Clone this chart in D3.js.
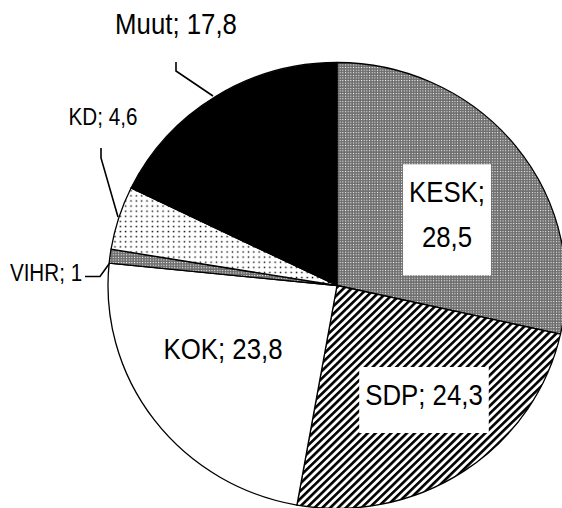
<!DOCTYPE html>
<html>
<head>
<meta charset="utf-8">
<script src="https://cdn.jsdelivr.net/npm/d3@7"></script>
<style>
  html, body { margin: 0; padding: 0; background: #fff; }
  svg { display: block; }
  text { font-family: "Liberation Sans", Arial, sans-serif; fill: #000; }
</style>
</head>
<body>
<svg id="chart" width="562" height="508"></svg>
<script>
// ---- data ----
const parties = ["KESK", "SDP", "KOK", "VIHR", "KD", "Muut"];
const shares = [28.5, 24.3, 23.8, 1, 4.6, 17.8];
const fills = ["url(#checker)", "url(#hatch)", "#fff", "url(#checker)", "url(#dots)", "#000"];

// ---- layout (annotation placement) ----
const W = 562, H = 508;
const cx = 337, cy = 285.5, rx = 229, ry = 223;
const labelLayout = {
  KESK: { x: 447, y: 202.3, size: 30, box: true, split: true },
  SDP:  { x: 424, y: 405,   size: 30, box: true },
  KOK:  { x: 223, y: 359.3, size: 30 },
  VIHR: { x: 46,  y: 281,   size: 24 },
  KD:   { x: 103, y: 125,   size: 24 },
  Muut: { x: 176, y: 34.3,  size: 30 }
};
const leaders = {
  Muut: [[176, 62], [176, 71], [213, 96]],
  KD:   [[101, 148], [101, 158], [118, 217]],
  VIHR: [[85, 276.5], [100, 276.5], [109, 264]]
};
const xScaleText = 0.86;
const lineGap = 45;

const fmt = v => String(v).replace(".", ",");
const data = parties.map((p, i) => ({ party: p, value: shares[i], fill: fills[i] }));

const svg = d3.select("#chart");
const defs = svg.append("defs");

// checker pattern (fine 50% gray dither)
const chk = defs.append("pattern").attr("id", "checker")
  .attr("patternUnits", "userSpaceOnUse").attr("width", 2.6).attr("height", 2.6);
chk.append("rect").attr("width", 2.6).attr("height", 2.6).attr("fill", "#6e6e6e");
chk.append("rect").attr("width", 1).attr("height", 1).attr("fill", "#fff");

// diagonal hatch "/"
const hatch = defs.append("pattern").attr("id", "hatch")
  .attr("patternUnits", "userSpaceOnUse").attr("width", 5.4).attr("height", 10)
  .attr("patternTransform", "rotate(45)");
hatch.append("rect").attr("width", 5.4).attr("height", 10).attr("fill", "#fff");
hatch.append("rect").attr("width", 2.6).attr("height", 10).attr("fill", "#000");

// sparse dots
const dots = defs.append("pattern").attr("id", "dots")
  .attr("patternUnits", "userSpaceOnUse").attr("width", 5.2).attr("height", 5.1);
dots.append("rect").attr("width", 5.2).attr("height", 5.1).attr("fill", "#fff");
dots.append("rect").attr("x", 1.5).attr("y", 1.5).attr("width", 1.4).attr("height", 1.4).attr("fill", "#000");

// ---- pie ----
const pie = d3.pie().sort(null).value(d => d.value);
const arc = d3.arc().innerRadius(0).outerRadius(ry);

const g = svg.append("g")
  .attr("transform", `translate(${cx},${cy}) scale(${rx / ry},1)`);

g.selectAll("path.slice")
  .data(pie(data))
  .join("path")
  .attr("class", "slice")
  .attr("d", arc)
  .attr("fill", d => d.data.fill)
  .attr("stroke", "#000")
  .attr("stroke-width", 1.3)
  .attr("stroke-linejoin", "round")
  .attr("vector-effect", "non-scaling-stroke");

// ---- leader lines ----
const line = d3.line();
Object.entries(leaders).forEach(([k, pts]) => {
  svg.append("path")
    .attr("d", line(pts))
    .attr("fill", "none")
    .attr("stroke", "#000")
    .attr("stroke-width", 1.6);
});

// ---- labels ----
const labelLayer = svg.append("g");
data.forEach(d => {
  const L = labelLayout[d.party];
  const lines = L.split ? [d.party + ";", fmt(d.value)] : [d.party + "; " + fmt(d.value)];
  const grp = labelLayer.append("g");
  const boxRect = L.box ? grp.append("rect").attr("fill", "#fff") : null;
  let minX = Infinity, maxX = -Infinity;
  lines.forEach((t, i) => {
    const tg = grp.append("g")
      .attr("transform", `translate(${L.x},${L.y + i * lineGap}) scale(${xScaleText},1)`);
    const txt = tg.append("text")
      .attr("text-anchor", "middle")
      .attr("font-size", L.size)
      .text(t);
    const w = txt.node().getComputedTextLength() * xScaleText;
    minX = Math.min(minX, L.x - w / 2);
    maxX = Math.max(maxX, L.x + w / 2);
  });
  if (boxRect) {
    const top = L.y - 38;
    const bottom = L.y + (lines.length - 1) * lineGap + 28;
    boxRect.attr("x", minX - 6).attr("y", top)
      .attr("width", maxX - minX + 12).attr("height", bottom - top);
  }
});
</script>
</body>
</html>
